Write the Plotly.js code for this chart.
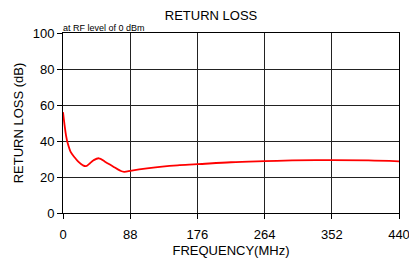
<!DOCTYPE html>
<html><head><meta charset="utf-8">
<script src="https://cdn.plot.ly/plotly-3.0.1.min.js"></script>
<style>html,body{margin:0;padding:0;background:#fff}#c{width:409px;height:258px}</style>
</head><body><div id="c"></div>
<script>
const freqMHz = [0, 2, 4, 6, 10, 15, 20, 26, 30, 35, 40, 47, 55, 65, 75, 80, 90, 110, 130, 150, 176, 220, 264, 300, 352, 400, 440];
const returnLossDb = [56, 49, 43, 39, 34, 31, 28.5, 26.5, 26, 27.5, 29.3, 30.4, 28.5, 26, 23.5, 22.9, 23.6, 24.8, 25.8, 26.5, 27.1, 28.2, 28.8, 29.2, 29.4, 29.2, 28.7];
const xTicks = [0, 88, 176, 264, 352, 440];
const yTicks = [0, 20, 40, 60, 80, 100];
const font = 'Liberation Sans, Arial, sans-serif';

Plotly.newPlot('c', [{
  x: freqMHz, y: returnLossDb, mode: 'lines', line: {color: '#ff0000', width: 1.8, shape: 'spline'}, hoverinfo: 'none'
}], {
  width: 409, height: 258,
  margin: {l: 63, r: 10, t: 33, b: 45},
  paper_bgcolor: '#fff', plot_bgcolor: '#fff',
  showlegend: false,
  font: {family: font, color: '#000', size: 13},
  title: {text: 'RETURN LOSS', font: {size: 13, family: font}, x: 0.516, xanchor: 'center', y: 0.94, yanchor: 'middle'},
  xaxis: {
    range: [0, 440], tickvals: xTicks, ticktext: xTicks.map(String),
    showgrid: true, gridcolor: '#222', gridwidth: 1,
    showline: true, linecolor: '#000', linewidth: 1, mirror: true,
    ticks: 'outside', ticklen: 5, tickcolor: '#000', ticklabelstandoff: 4,
    ticklabeloverflow: 'allow',
    zeroline: false, tickfont: {size: 13},
    title: {text: 'FREQUENCY(MHz)', font: {size: 13}, standoff: 6}
  },
  yaxis: {
    range: [0, 100], tickvals: yTicks, ticktext: yTicks.map(String),
    showgrid: true, gridcolor: '#222', gridwidth: 1,
    showline: true, linecolor: '#000', linewidth: 1, mirror: true,
    ticks: 'outside', ticklen: 5, tickcolor: '#000',
    zeroline: false, tickfont: {size: 13},
    title: {text: 'RETURN LOSS (dB)', font: {size: 13}, standoff: 6}
  },
  annotations: [{
    text: 'at RF level of 0 dBm', xref: 'paper', yref: 'paper', x: 0, y: 1, xanchor: 'left', yanchor: 'bottom',
    showarrow: false, font: {size: 9, family: font, color: '#000'}, xshift: -2, yshift: -2
  }]
}, {staticPlot: true});
</script></body></html>
